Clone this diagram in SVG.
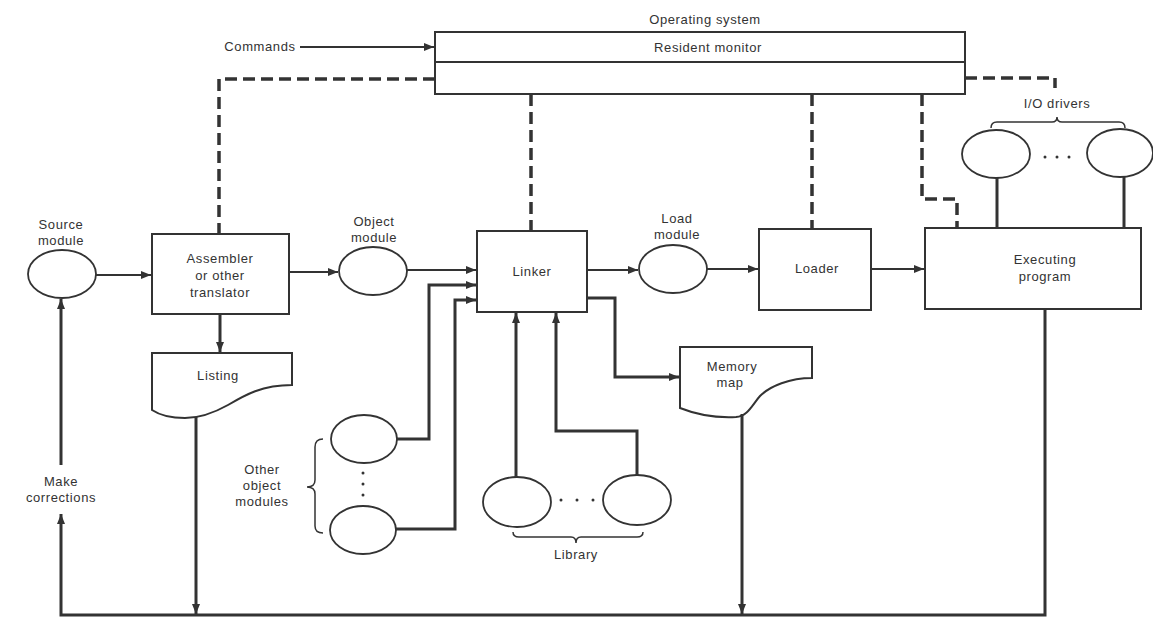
<svg xmlns="http://www.w3.org/2000/svg" width="1153" height="621" viewBox="0 0 1153 621">
<style>
text{font-family:"Liberation Sans",Arial,sans-serif;font-size:13px;fill:#333;text-anchor:middle;letter-spacing:0.6px}
.box{fill:#fff;stroke:#333;stroke-width:2}
.ell{fill:#fff;stroke:#333;stroke-width:1.8}
.ln{fill:none;stroke:#333;stroke-width:3}
.thin{fill:none;stroke:#333;stroke-width:2}
.dash{fill:none;stroke:#333;stroke-width:3.5;stroke-dasharray:12 6}
.brace{fill:none;stroke:#333;stroke-width:1.5}
.dot{fill:#333}
</style>
<defs>
<marker id="ah" viewBox="0 0 10 8" refX="10" refY="4" markerWidth="10" markerHeight="8" markerUnits="userSpaceOnUse" orient="auto"><path d="M0,0 L10,4 L0,8 Z" fill="#333"/></marker>
</defs>
<rect width="1153" height="621" fill="#fff"/>

<g id="os">
<text x="705" y="24">Operating system</text>
<rect class="box" x="435" y="32" width="530" height="62"/>
<line class="thin" x1="435" y1="62" x2="965" y2="62"/>
<text x="708" y="52">Resident monitor</text>
</g>
<g id="commands"><text x="260" y="51">Commands</text></g>

<g id="source">
<text x="61" y="229">Source</text><text x="61" y="245">module</text>
<ellipse class="ell" cx="62" cy="274" rx="34" ry="24"/>
</g>
<g id="assembler">
<rect class="box" x="152" y="234" width="137" height="80"/>
<text x="220" y="263">Assembler</text><text x="220" y="280">or other</text><text x="220" y="297">translator</text>
</g>
<g id="listing">
<path class="box" d="M152,353 H292 V385 C262,385 245,395 228,405 C212,414 200,418 185,418 C170,418 158,414 152,410 Z"/>
<text x="218" y="380">Listing</text>
</g>
<g id="objmod">
<text x="374" y="226">Object</text><text x="374" y="242">module</text>
<ellipse class="ell" cx="373" cy="271" rx="34" ry="24"/>
</g>
<g id="linker">
<rect class="box" x="477" y="231" width="110" height="81"/>
<text x="532" y="276">Linker</text>
</g>
<g id="loadmod">
<text x="677" y="223">Load</text><text x="677" y="239">module</text>
<ellipse class="ell" cx="673" cy="269" rx="34" ry="24"/>
</g>
<g id="loader">
<rect class="box" x="759" y="229" width="112" height="81"/>
<text x="817" y="273">Loader</text>
</g>
<g id="executing">
<rect class="box" x="925" y="228" width="216" height="81"/>
<text x="1045" y="264">Executing</text><text x="1045" y="281">program</text>
</g>
<g id="memmap">
<path class="box" d="M680,347 H812 V378 C790,378 770,386 760,396 C752,405 748,416 736,417 C716,418 695,414 680,408 Z"/>
<text x="732" y="371">Memory</text><text x="730" y="387">map</text>
</g>
<g id="iodrivers">
<text x="1057" y="108">I/O drivers</text>
<path class="brace" d="M991,128 Q991,122 997,122 H1052 Q1057,122 1057,117 Q1057,122 1062,122 H1119 Q1125,122 1125,128"/>
<ellipse class="ell" cx="996" cy="154" rx="34" ry="24"/>
<ellipse class="ell" cx="1120" cy="153" rx="33" ry="24"/>
<circle class="dot" cx="1045" cy="157" r="1.5"/><circle class="dot" cx="1057" cy="157" r="1.5"/><circle class="dot" cx="1069" cy="157" r="1.5"/>
</g>
<g id="othermods">
<text x="262" y="474">Other</text><text x="262" y="490">object</text><text x="262" y="506">modules</text>
<path class="brace" d="M323,439 Q315,439 315,447 V480 Q315,487 307,487 Q315,487 315,494 V526 Q315,533 323,533"/>
<ellipse class="ell" cx="364" cy="439" rx="33" ry="24"/>
<ellipse class="ell" cx="363" cy="530" rx="33" ry="24"/>
<circle class="dot" cx="363" cy="473" r="1.5"/><circle class="dot" cx="363" cy="484" r="1.5"/><circle class="dot" cx="363" cy="495" r="1.5"/>
</g>
<g id="library">
<ellipse class="ell" cx="517" cy="502" rx="34" ry="25"/>
<ellipse class="ell" cx="637" cy="500" rx="34" ry="25"/>
<circle class="dot" cx="561" cy="500" r="1.5"/><circle class="dot" cx="577" cy="500" r="1.5"/><circle class="dot" cx="593" cy="500" r="1.5"/>
<path class="brace" d="M513,532 Q513,537 519,537 H571 Q576,537 576,543 Q576,537 581,537 H637 Q643,537 643,532"/>
<text x="576" y="559">Library</text>
</g>
<g id="makecorr"><text x="61" y="486">Make</text><text x="61" y="502">corrections</text></g>

<g id="connectors">
<line class="thin" x1="300" y1="47" x2="434" y2="47" marker-end="url(#ah)"/>
<path class="dash" d="M435,79 H219 V234"/>
<path class="dash" d="M965,78 H1055 V88"/>
<line class="dash" x1="531" y1="94" x2="531" y2="231"/>
<line class="dash" x1="812" y1="94" x2="812" y2="229"/>
<path class="dash" d="M922,94 V199 H957 V228"/>
<line class="thin" x1="96" y1="275" x2="151" y2="275" marker-end="url(#ah)"/>
<line class="thin" x1="289" y1="272" x2="338" y2="272" marker-end="url(#ah)"/>
<line class="ln" x1="220" y1="314" x2="220" y2="352" marker-end="url(#ah)"/>
<line class="thin" x1="407" y1="270" x2="476" y2="270" marker-end="url(#ah)"/>
<path class="ln" d="M397,439 H429 V285 H476" marker-end="url(#ah)"/>
<path class="ln" d="M396,529 H455 V300 H476" marker-end="url(#ah)"/>
<line class="ln" x1="516" y1="477" x2="516" y2="313" marker-end="url(#ah)"/>
<path class="ln" d="M637,475 V431 H556 V313" marker-end="url(#ah)"/>
<line class="thin" x1="587" y1="270" x2="638" y2="270" marker-end="url(#ah)"/>
<path class="ln" d="M587,298 H615 V377 H679" marker-end="url(#ah)"/>
<line class="thin" x1="707" y1="269" x2="758" y2="269" marker-end="url(#ah)"/>
<line class="thin" x1="871" y1="269" x2="924" y2="269" marker-end="url(#ah)"/>
<line class="ln" x1="997" y1="178" x2="997" y2="228"/>
<line class="ln" x1="1124" y1="177" x2="1124" y2="228"/>
<path class="ln" d="M1045,309 V615 H61 V514" marker-end="url(#ah)"/>
<line class="ln" x1="61" y1="465" x2="61" y2="299" marker-end="url(#ah)"/>
<line class="ln" x1="196" y1="417" x2="196" y2="614" marker-end="url(#ah)"/>
<line class="ln" x1="742" y1="414" x2="742" y2="614" marker-end="url(#ah)"/>
</g>
</svg>
